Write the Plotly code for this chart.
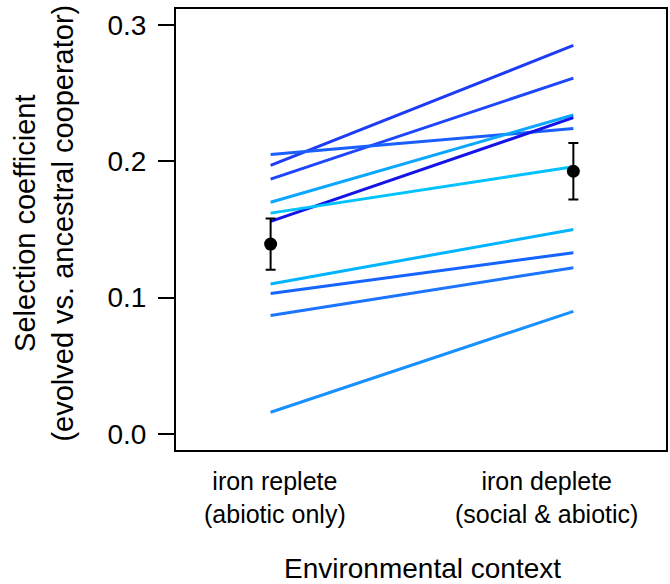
import plotly.graph_objects as go
import numpy as np

# Two environments; each evolved lineage measured in both
env_positions = [1, 2]
env_labels = ["iron replete<br>(abiotic only)", "iron deplete<br>(social & abiotic)"]

# Selection coefficient of each lineage in iron-replete / iron-deplete media
replete = [0.197, 0.187, 0.205, 0.170, 0.156, 0.162, 0.110, 0.103, 0.087, 0.016]
deplete = [0.285, 0.261, 0.224, 0.234, 0.232, 0.196, 0.150, 0.133, 0.122, 0.090]
line_colors = ["#1f3cf5", "#1f46ff", "#1a60ff", "#0aa6ff", "#1414e8",
               "#00c2ff", "#00b4ff", "#1464ff", "#1c74ff", "#1890ff"]

fig = go.Figure()

for r, d, c in zip(replete, deplete, line_colors):
    fig.add_trace(go.Scatter(
        x=env_positions, y=[r, d], mode="lines",
        line=dict(color=c, width=3), showlegend=False, hoverinfo="skip"))

# Mean ± standard error across lineages
groups = np.array([replete, deplete])
means = groups.mean(axis=1)
ses = groups.std(axis=1, ddof=1) / np.sqrt(groups.shape[1])

fig.add_trace(go.Scatter(
    x=env_positions, y=means, mode="markers",
    marker=dict(color="black", size=13),
    error_y=dict(type="data", array=ses, visible=True,
                 color="black", thickness=2, width=5),
    showlegend=False))

font_family = "Liberation Sans, Arial, sans-serif"

fig.update_layout(
    width=670, height=584,
    margin=dict(l=176, r=2, t=9, b=134),
    plot_bgcolor="white", paper_bgcolor="white",
    font=dict(family=font_family, size=28, color="black"),
    xaxis=dict(range=[0.6875, 2.306], showticklabels=False, ticks="",
               showgrid=False, zeroline=False,
               showline=True, linecolor="black", linewidth=2, mirror=True),
    yaxis=dict(range=[-0.0117, 0.3117], tickvals=[0, 0.1, 0.2, 0.3],
               ticktext=["0.0", "0.1", "0.2", "0.3"],
               ticks="outside", ticklen=16, tickwidth=2, tickcolor="black",
               ticklabelstandoff=6,
               tickfont=dict(size=28, family=font_family),
               showgrid=False, zeroline=False,
               showline=True, linecolor="black", linewidth=2, mirror=True),
)

# Category labels under each environment
for xp, lab in zip([1.013, 1.911], env_labels):
    fig.add_annotation(x=xp, xref="x", y=-0.035, yref="paper",
                       text=lab, showarrow=False, xanchor="center",
                       yanchor="top", font=dict(size=25, family=font_family))

fig.add_annotation(x=0.504, xref="paper", y=-0.268, yref="paper",
                   text="Environmental context", showarrow=False,
                   xanchor="center", yanchor="middle",
                   font=dict(size=28, family=font_family))

fig.add_annotation(x=-0.27, xref="paper", y=0.515, yref="paper",
                   text="Selection coefficient<br>(evolved vs. ancestral cooperator)",
                   textangle=-90, showarrow=False,
                   xanchor="center", yanchor="middle",
                   font=dict(size=29, family=font_family))

fig.write_html("out.html")
